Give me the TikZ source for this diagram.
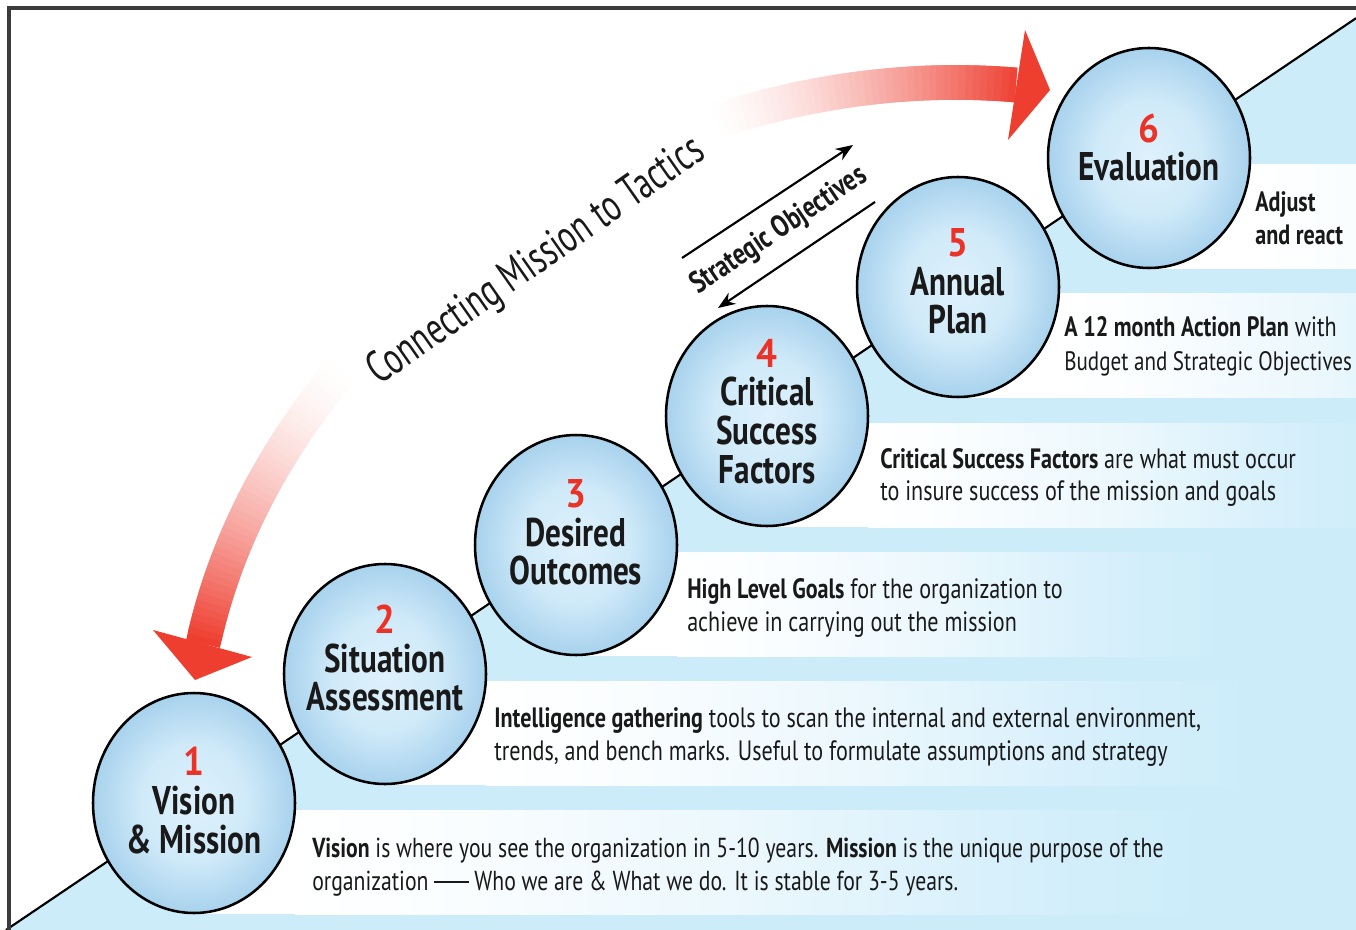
\documentclass[tikz,border=0pt]{standalone}
\usepackage{fontspec}
\setmainfont{PT Sans}
\newfontfamily\lblfont[FakeStretch=0.78]{PT Sans}
\newfontfamily\numfont[FakeStretch=0.92]{PT Sans}
\newfontfamily\bodyfont[FakeStretch=0.79,Ligatures=TeX]{PT Sans}
\newfontfamily\arcfont[FakeStretch=0.70]{PT Sans}
\usetikzlibrary{shapes.geometric,arrows.meta}
\definecolor{bluebg}{RGB}{205,236,250}
\definecolor{arcred}{RGB}{238,62,48}
\definecolor{numred}{RGB}{236,50,38}
\definecolor{framegray}{RGB}{60,60,60}
\definecolor{ballc}{RGB}{222,241,252}
\definecolor{ballm}{RGB}{208,234,249}
\definecolor{balle}{RGB}{168,210,237}
\colorlet{bandA}{bluebg!10!white}
\colorlet{bandB}{bluebg!40!white}
\colorlet{bandC}{bluebg!82!white}
\pgfdeclarehorizontalshading{bandshade}{100bp}{color(0bp)=(white); color(25bp)=(white); color(34bp)=(bandA); color(50bp)=(bandB); color(65bp)=(bandC); color(75bp)=(bluebg); color(100bp)=(bluebg)}
\pgfdeclareradialshading{bubble}{\pgfpoint{0bp}{0bp}}{color(0bp)=(ballc); color(13bp)=(ballm); color(25bp)=(balle); color(50bp)=(balle)}
\newcommand{\stepnum}[1]{{\numfont\bfseries\color{numred}#1}}
\newcommand{\longdash}{\raisebox{0.27em}{\rule{1.25em}{0.07em}}}
\tikzset{
  stepball/.style={ellipse, draw=black, line width=1.9pt, minimum width=151.5pt, minimum height=165pt, inner sep=0pt, shading=bubble},
  balllabel/.style={align=center, inner sep=0pt, font=\lblfont\bfseries\fontsize{30}{29}\selectfont, text=black!90},
  bodytxt/.style={anchor=base west, inner sep=0pt, font=\bodyfont\fontsize{21}{25}\selectfont, text=black!90},
  soarrow/.style={line width=1.6pt, -{Stealth[length=13pt,width=10pt]}},
}
\begin{document}
\begin{tikzpicture}[x=0.75pt,y=-0.75pt]
\fill[white] (0,0) rectangle (1356,930);
% coordinates of step centres
\coordinate (dstart) at (6,930);
\coordinate (dend) at (1356,18.2);
\coordinate (p1) at (194,803);
\coordinate (p2) at (385,674);
\coordinate (p3) at (576,545);
\coordinate (p4) at (767,416);
\coordinate (p5) at (958,287);
\coordinate (p6) at (1149,158);
% blue area
\fill[bluebg] (dstart) -- (dend) -- (1356,930) -- cycle;
% bands
\begin{scope}
\clip (0,0) rectangle (1356,930);
\foreach \cx/\cy/\w in {194/803/900,385/674/760,576/545/540,767/416/520,958/287/520,1149/158/520}{
  \fill[white] (\cx,\cy+7) rectangle (\cx+102,\cy+111);
  \shade[shading=bandshade] (\cx+101,\cy+7) rectangle (\cx+101+\w,\cy+111);
}
\end{scope}
% diagonal
\draw[line width=1.6pt] (dstart) -- (p1) -- (p2) -- (p3) -- (p4) -- (p5) -- (p6) -- (dend);
% frame
\draw[framegray, line width=2.4pt] (9,932) -- (9,8) -- (1358,8);
% big arc
\coordinate (a0) at (203,644);
\coordinate (a1) at (276,307);
\coordinate (a2) at (655,54);
\coordinate (a3) at (1016,85);
\foreach \i in {0,...,149}{
  \pgfmathsetmacro\ta{\i/150}
  \pgfmathsetmacro\tb{min(1,(\i+2)/150)}
  \pgfmathsetmacro\fb{pow(max(1-\ta/0.30,0.001),1.6)}
  \pgfmathsetmacro\ft{pow(max((\ta-0.71)/0.29,0.001),1.5)}
  \pgfmathsetmacro\pc{100*min(1,max(\fb,\ft))}
  \path (a0) .. controls (a1) and (a2) .. (a3) coordinate[pos=\ta] (q1) coordinate[pos=\tb] (q2);
  \draw[line width=26pt, arcred!\pc!white] (q1) -- (q2);
}
\fill[arcred] (1025,30) -- (1050,90) -- (1008,140) -- cycle;
\fill[arcred] (153,630) -- (195,680) -- (252,657) -- cycle;
\node[rotate=35, font=\arcfont\fontsize{34}{36}\selectfont, text=black!90] (arctext) at (537,262) {Connecting Mission to Tactics};
% strategic objectives
\coordinate (so1s) at (682,258);
\coordinate (so1e) at (853,145);
\coordinate (so2s) at (875,202);
\coordinate (so2e) at (718,308);
\draw[soarrow] (so1s) -- (so1e);
\draw[soarrow] (so2s) -- (so2e);
\node[rotate=34, font=\bodyfont\bfseries\fontsize{23}{25}\selectfont, text=black!90] (sotext) at (779,231) {Strategic Objectives};
% circles
\node[stepball] (c1) at (p1) {};
\node[stepball] (c2) at (p2) {};
\node[stepball] (c3) at (p3) {};
\node[stepball] (c4) at (p4) {};
\node[stepball] (c5) at (p5) {};
\node[stepball] (c6) at (p6) {};
\node[balllabel] (l1) at ([yshift=1.9pt]c1.center) {\stepnum{1}\\Vision\\\& Mission};
\node[balllabel] (l2) at ([yshift=12pt]c2.center) {\stepnum{2}\\Situation\\Assessment};
\node[balllabel] (l3) at ([yshift=9.4pt]c3.center) {\stepnum{3}\\Desired\\Outcomes};
\node[balllabel] (l4) at ([yshift=3.4pt]c4.center) {\stepnum{4}\\Critical\\Success\\Factors};
\node[balllabel] (l5) at ([yshift=4.1pt]c5.center) {\stepnum{5}\\Annual\\Plan};
\node[balllabel] (l6) at ([yshift=7.9pt]c6.center) {\stepnum{6}\\Evaluation};
% descriptions
\node[bodytxt] (t6a) at (1255,212) {\bfseries Adjust};
\node[bodytxt] (t6b) at (1255,245) {\bfseries and react};
\node[bodytxt] (t5a) at (1064,337) {\textbf{A 12 month Action Plan} with};
\node[bodytxt, font=\bodyfont\fontsize{20}{25}\selectfont] (t5b) at (1064,371) {Budget and Strategic Objectives};
\node[bodytxt] (t4a) at (880,468) {\textbf{Critical Success Factors} are what must occur};
\node[bodytxt] (t4b) at (880,500) {to insure success of the mission and goals};
\node[bodytxt] (t3a) at (687,598) {\textbf{High Level Goals} for the organization to};
\node[bodytxt] (t3b) at (687,631) {achieve in carrying out the mission};
\node[bodytxt] (t2a) at (494,727) {\textbf{Intelligence gathering} tools to scan the internal and external environment,};
\node[bodytxt] (t2b) at (494,760) {trends, and bench marks. Useful to formulate assumptions and strategy};
\node[bodytxt, font=\bodyfont\fontsize{20.6}{25}\selectfont] (t1a) at (312,857) {\textbf{Vision} is where you see the organization in 5-10 years. \textbf{Mission} is the unique purpose of the};
\node[bodytxt, font=\bodyfont\fontsize{20.6}{25}\selectfont] (t1b) at (312,890) {organization \longdash{} Who we are \& What we do. It is stable for 3-5 years.};
\pgfresetboundingbox
\useasboundingbox (0,0) rectangle (1356,930);
\end{tikzpicture}
\end{document}
